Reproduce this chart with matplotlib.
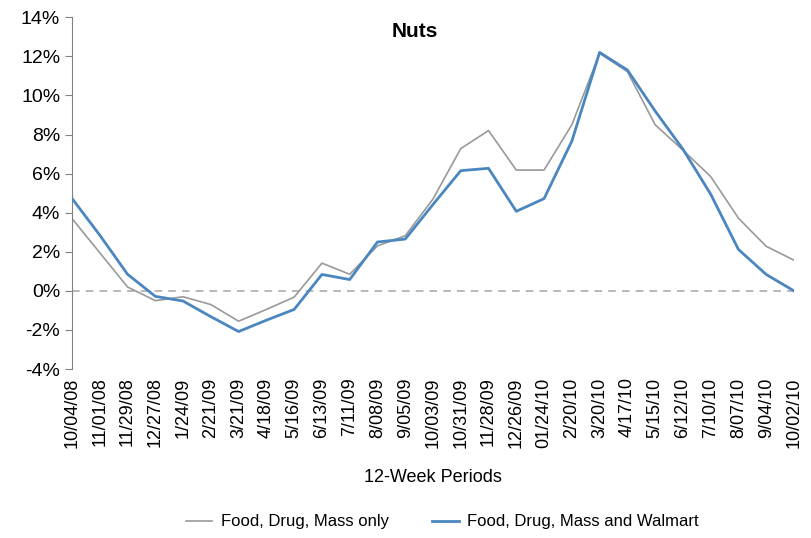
import numpy as np
import matplotlib.pyplot as plt
from matplotlib.ticker import FuncFormatter

# 12-week period end dates
periods = ['10/04/08', '11/01/08', '11/29/08', '12/27/08', '1/24/09', '2/21/09',
           '3/21/09', '4/18/09', '5/16/09', '6/13/09', '7/11/09', '8/08/09',
           '9/05/09', '10/03/09', '10/31/09', '11/28/09', '12/26/09', '01/24/10',
           '2/20/10', '3/20/10', '4/17/10', '5/15/10', '6/12/10', '7/10/10',
           '8/07/10', '9/04/10', '10/02/10']

# % change, Food, Drug, Mass only
fdm_only = [3.7, 1.95, 0.2, -0.5, -0.3, -0.7, -1.55, -0.95, -0.32, 1.42, 0.85,
            2.3, 2.82, 4.7, 7.28, 8.2, 6.18, 6.18, 8.5, 12.15, 11.22, 8.5,
            7.2, 5.85, 3.72, 2.28, 1.57]

# % change, Food, Drug, Mass and Walmart
fdm_walmart = [4.73, 2.85, 0.85, -0.28, -0.52, -1.32, -2.08, -1.5, -0.95, 0.84,
               0.58, 2.5, 2.65, 4.42, 6.15, 6.27, 4.07, 4.72, 7.66, 12.2, 11.3,
               9.2, 7.25, 4.95, 2.12, 0.84, 0.0]

plt.rcParams['font.family'] = ['Liberation Sans Narrow', 'Liberation Sans', 'DejaVu Sans']

fig = plt.figure(figsize=(8.11, 5.38), dpi=100)
ax = fig.add_axes([0.0888, 0.314, 0.8902, 0.654])

x = np.arange(len(periods))
ax.axhline(0, color='#a6a6a6', lw=1.1, ls=(0, (5, 4)), zorder=1)
ax.plot(x, fdm_only, color='#999999', lw=1.2, label='Food, Drug, Mass only', zorder=2)
ax.plot(x, fdm_walmart, color='#4a86c0', lw=2.0, label='Food, Drug, Mass and Walmart', zorder=3)

ax.set_xlim(0, len(periods) - 1)
ax.set_ylim(-4, 14)
ax.set_yticks(np.arange(-4, 15, 2))
ax.yaxis.set_major_formatter(FuncFormatter(lambda v, p: '%d%%' % v))
ax.set_xticks(x)
ax.set_xticklabels(periods, rotation=90, fontsize=13)
ax.tick_params(axis='x', length=0, pad=6)
ax.tick_params(axis='y', labelsize=14, length=5, color='#808080', direction='out')

for s in ['top', 'right', 'bottom']:
    ax.spines[s].set_visible(False)
ax.spines['left'].set_color('#808080')

ax.text(0.475, 0.985, 'Nuts', transform=ax.transAxes, ha='center', va='top',
        fontsize=15, fontweight='bold')
ax.set_xlabel('12-Week Periods', fontsize=13, labelpad=15)

fig.legend(loc='lower center', bbox_to_anchor=(0.545, -0.012), ncol=2, frameon=False,
           fontsize=12, handlelength=1.6, handletextpad=0.5, columnspacing=2.6)

plt.savefig('out.png', dpi=100)
